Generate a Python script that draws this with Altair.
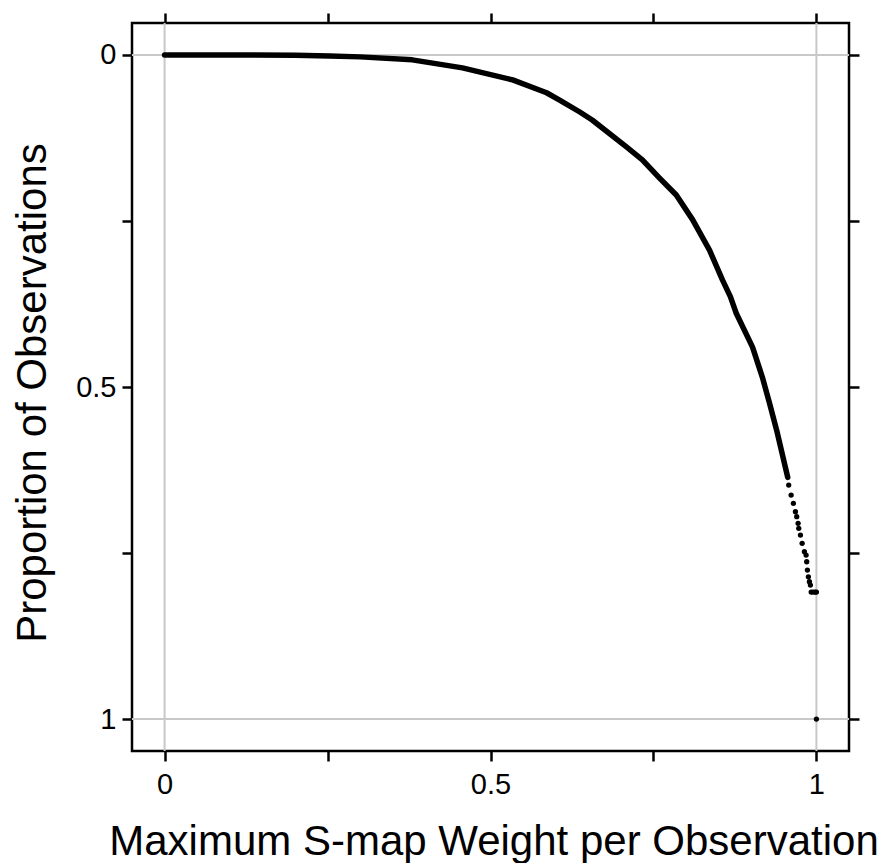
import altair as alt
import pandas as pd

# Main (dense) part of the curve
curve_x = [0.0, 0.10, 0.20, 0.253, 0.30, 0.380, 0.457, 0.534, 0.586, 0.606,
           0.637, 0.656, 0.709, 0.733, 0.759, 0.785, 0.810, 0.836, 0.856,
           0.868, 0.877, 0.902, 0.917, 0.928, 0.939, 0.956]
curve_y = [0.0, 0.0, 0.0005, 0.0015, 0.003, 0.0075, 0.0196, 0.0377, 0.057, 0.068,
           0.086, 0.098, 0.139, 0.158, 0.185, 0.211, 0.248, 0.294, 0.339,
           0.364, 0.389, 0.440, 0.485, 0.524, 0.565, 0.636]

# Sparse tail: individual observations
tail_x = [0.9575, 0.9612, 0.9647, 0.9678, 0.9698, 0.9719, 0.9729, 0.9755,
          0.9781, 0.9816, 0.9842, 0.9851, 0.9862, 0.9877, 0.9893, 0.9908,
          0.992, 0.995, 0.998, 1.0, 1.0]
tail_y = [0.6476, 0.6627, 0.6752, 0.6878, 0.6953, 0.7053, 0.7128, 0.7229,
          0.7354, 0.7480, 0.7530, 0.7631, 0.7756, 0.7857, 0.7932, 0.7982,
          0.8087, 0.8087, 0.8087, 0.8087, 1.0]

tick_values = [0, 0.25, 0.5, 0.75, 1]
grid_values = [0, 1]

FONT = "Liberation Sans"
LABEL_SIZE = 29

df_line = pd.DataFrame({"x": curve_x, "y": curve_y})
df_pts = pd.DataFrame({"x": tail_x, "y": tail_y})
df_grid = pd.DataFrame({"v": grid_values})

xs = alt.Scale(domain=[-0.05, 1.05], nice=False, zero=False)
ys = alt.Scale(domain=[-0.048, 1.048], nice=False, zero=False, reverse=True)

label_expr = "datum.value == 0 || datum.value == 0.5 || datum.value == 1 ? datum.label : ''"

grid_v = alt.Chart(df_grid).mark_rule(color="#c8c8c8", strokeWidth=2).encode(
    x=alt.X("v:Q", scale=xs, axis=None)
)
grid_h = alt.Chart(df_grid).mark_rule(color="#c8c8c8", strokeWidth=2).encode(
    y=alt.Y("v:Q", scale=ys, axis=None)
)

main_axes = alt.Chart(df_line).mark_line(
    color="black", strokeWidth=5.5, strokeCap="round", strokeJoin="round"
).encode(
    x=alt.X("x:Q", scale=xs, axis=alt.Axis(
        orient="bottom", values=tick_values, format="~g", labelExpr=label_expr,
        title="Maximum S-map Weight per Observation",
        titleX=361.5, titleY=103, titleAlign="center", titleBaseline="alphabetic",
        labelFont=FONT, labelFontSize=LABEL_SIZE,
        labelPadding=9, labelBaseline="top", labelFlush=False, labelOverlap=False)),
    y=alt.Y("y:Q", scale=ys, axis=alt.Axis(
        orient="left", values=tick_values, format="~g", labelExpr=label_expr,
        title="Proportion of Observations",
        titleX=-87, titleY=369.5, titleAlign="center", titleBaseline="alphabetic",
        titleAngle=270,
        labelFont=FONT, labelFontSize=LABEL_SIZE,
        labelPadding=6, labelBaseline="middle", labelFlush=False, labelOverlap=False)),
    order=alt.Order("x:Q"),
)

pts = alt.Chart(df_pts).mark_circle(color="black", opacity=1, size=28).encode(
    x=alt.X("x:Q", scale=xs, axis=alt.Axis(
        orient="top", values=tick_values, labels=False, title=None)),
    y=alt.Y("y:Q", scale=ys, axis=alt.Axis(
        orient="right", values=tick_values, labels=False, title=None)),
)

chart = alt.layer(grid_v, grid_h, main_axes, pts).resolve_axis(
    x="independent", y="independent"
).properties(
    width=717, height=728,
    autosize=alt.AutoSizeParams(type="none"),
    padding={"left": 132, "top": 23, "right": 39, "bottom": 112},
).configure_view(
    stroke="black", strokeWidth=2.5
).configure_axis(
    domain=False, grid=False,
    tickColor="black", tickWidth=2.5, tickSize=10,
    labelFont=FONT, labelFontSize=LABEL_SIZE, labelColor="black",
    titleFont=FONT, titleFontSize=42, titleFontWeight="normal", titleColor="black",
)

chart.save("out.html", embed_options={"renderer": "svg", "actions": False})
